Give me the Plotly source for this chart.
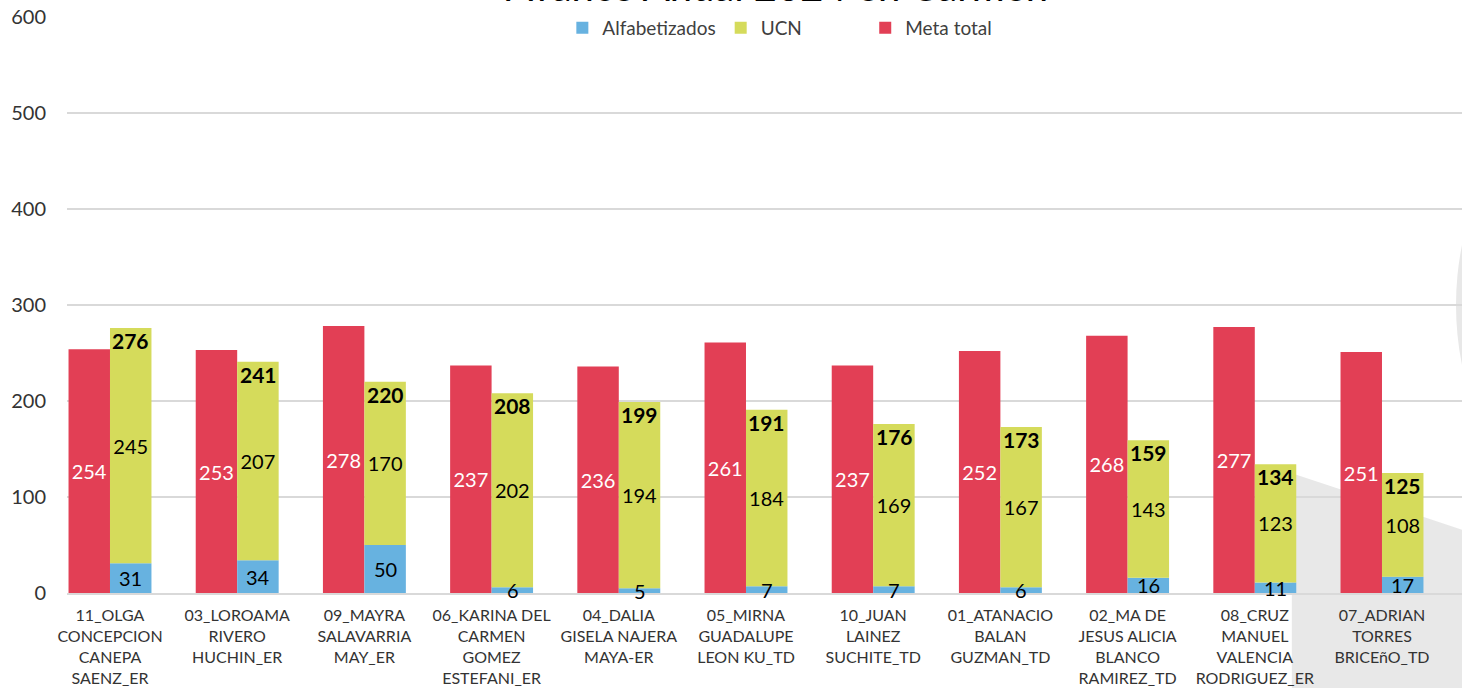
import plotly.graph_objects as go

categories = [
    "11_OLGA<br>CONCEPCION<br>CANEPA<br>SAENZ_ER",
    "03_LOROAMA<br>RIVERO<br>HUCHIN_ER",
    "09_MAYRA<br>SALAVARRIA<br>MAY_ER",
    "06_KARINA DEL<br>CARMEN<br>GOMEZ<br>ESTEFANI_ER",
    "04_DALIA<br>GISELA NAJERA<br>MAYA-ER",
    "05_MIRNA<br>GUADALUPE<br>LEON KU_TD",
    "10_JUAN<br>LAINEZ<br>SUCHITE_TD",
    "01_ATANACIO<br>BALAN<br>GUZMAN_TD",
    "02_MA DE<br>JESUS ALICIA<br>BLANCO<br>RAMIREZ_TD",
    "08_CRUZ<br>MANUEL<br>VALENCIA<br>RODRIGUEZ_ER",
    "07_ADRIAN<br>TORRES<br>BRICEñO_TD",
]
meta_total = [254, 253, 278, 237, 236, 261, 237, 252, 268, 277, 251]
alfabetizados = [31, 34, 50, 6, 5, 7, 7, 6, 16, 11, 17]
ucn = [245, 207, 170, 202, 194, 184, 169, 167, 143, 123, 108]
totals = [a + u for a, u in zip(alfabetizados, ucn)]

y_ticks = [0, 100, 200, 300, 400, 500, 600]

RED = "#E23F55"
GREEN = "#D5DB5B"
BLUE = "#67B2E0"
FONT = "Lato"
PAD = "\u00a0" * 12

fig = go.Figure()
fig.add_trace(go.Bar(
    x=categories, y=meta_total, name="Meta total", offsetgroup="m",
    marker=dict(color=RED, line=dict(width=0)),
    text=[str(v) for v in meta_total], textposition="inside", textangle=0,
    insidetextanchor="middle", constraintext="none",
    textfont=dict(color="white", size=20, family=FONT),
    legendrank=3,
))
fig.add_trace(go.Bar(
    x=categories, y=alfabetizados, name="Alfabetizados", offsetgroup="s",
    marker=dict(color=BLUE, line=dict(width=0)),
    legendrank=1,
))
fig.add_trace(go.Bar(
    x=categories, y=ucn, base=alfabetizados, name="UCN" + PAD, offsetgroup="s",
    marker=dict(color=GREEN, line=dict(width=0)),
    text=[str(v) for v in ucn], textposition="inside", textangle=0,
    insidetextanchor="middle", constraintext="none",
    textfont=dict(color="black", size=20, family=FONT),
    legendrank=2,
))

# Alfabetizados labels, centred in their segment
for c, a in zip(categories, alfabetizados):
    fig.add_annotation(
        x=c, y=a / 2, xref="x", yref="y", xshift=21, yanchor="middle",
        text=str(a), showarrow=False,
        font=dict(size=20, color="black", family=FONT),
    )

# totals (Alfabetizados + UCN)
for c, t in zip(categories, totals):
    fig.add_annotation(
        x=c, y=t, xref="x", yref="y", xshift=21, yshift=2,
        text=f"<b>{t}</b>", showarrow=False, yanchor="top",
        font=dict(size=21, color="black", family=FONT),
    )

# title (mostly cut off at top of the frame)
fig.add_annotation(
    x=0.509, y=1.008, xref="paper", yref="paper", yanchor="bottom",
    text="Avance Anual 2024 en Carmen", showarrow=False,
    font=dict(size=40, color="black", family=FONT),
)

# decorative background shapes
fig.add_shape(type="path", xref="paper", yref="paper", layer="below",
              path="M 0.878 0.208 L 1.0 0.11 L 1.0 -0.17 L 0.878 -0.17 Z",
              fillcolor="#E8E8E8", line=dict(width=0))
fig.add_shape(type="circle", xref="paper", yref="paper", layer="below",
              x0=0.9957, x1=1.43, y0=-0.026, y1=1.026,
              fillcolor="#E8E8E8", line=dict(width=0))

fig.update_layout(
    width=1462, height=688,
    margin=dict(l=67, r=0, t=17, b=95, autoexpand=False),
    paper_bgcolor="white", plot_bgcolor="rgba(0,0,0,0)",
    barmode="group", bargap=0.348, bargroupgap=0,
    uniformtext=dict(minsize=20, mode="show"),
    font=dict(family=FONT, color="#404040"),
    showlegend=True,
    legend=dict(orientation="h", x=0.511, xanchor="center", y=0.981, yanchor="middle",
                font=dict(size=19, color="#404040", family=FONT),
                bgcolor="rgba(0,0,0,0)", itemwidth=30),
    xaxis=dict(range=[-0.338, 10.629], showgrid=False, showline=True, automargin=False,
               linecolor="#D9D9D9", linewidth=2, ticks="", ticklabelstandoff=7,
               tickfont=dict(size=16, color="#333333", family=FONT), tickangle=0),
    yaxis=dict(range=[0, 600], tickvals=y_ticks, showgrid=True, gridcolor="#D9D9D9",
               gridwidth=2, zeroline=False, showline=False, ticks="", automargin=False,
               ticklabelstandoff=20,
               tickfont=dict(size=20, color="#333333", family=FONT)),
)

# remove the default page margin so the figure fills the window exactly
fig.write_html(
    "out.html",
    config={"displayModeBar": False},
    post_script="document.body.style.margin='0';document.body.style.overflow='hidden';",
)
